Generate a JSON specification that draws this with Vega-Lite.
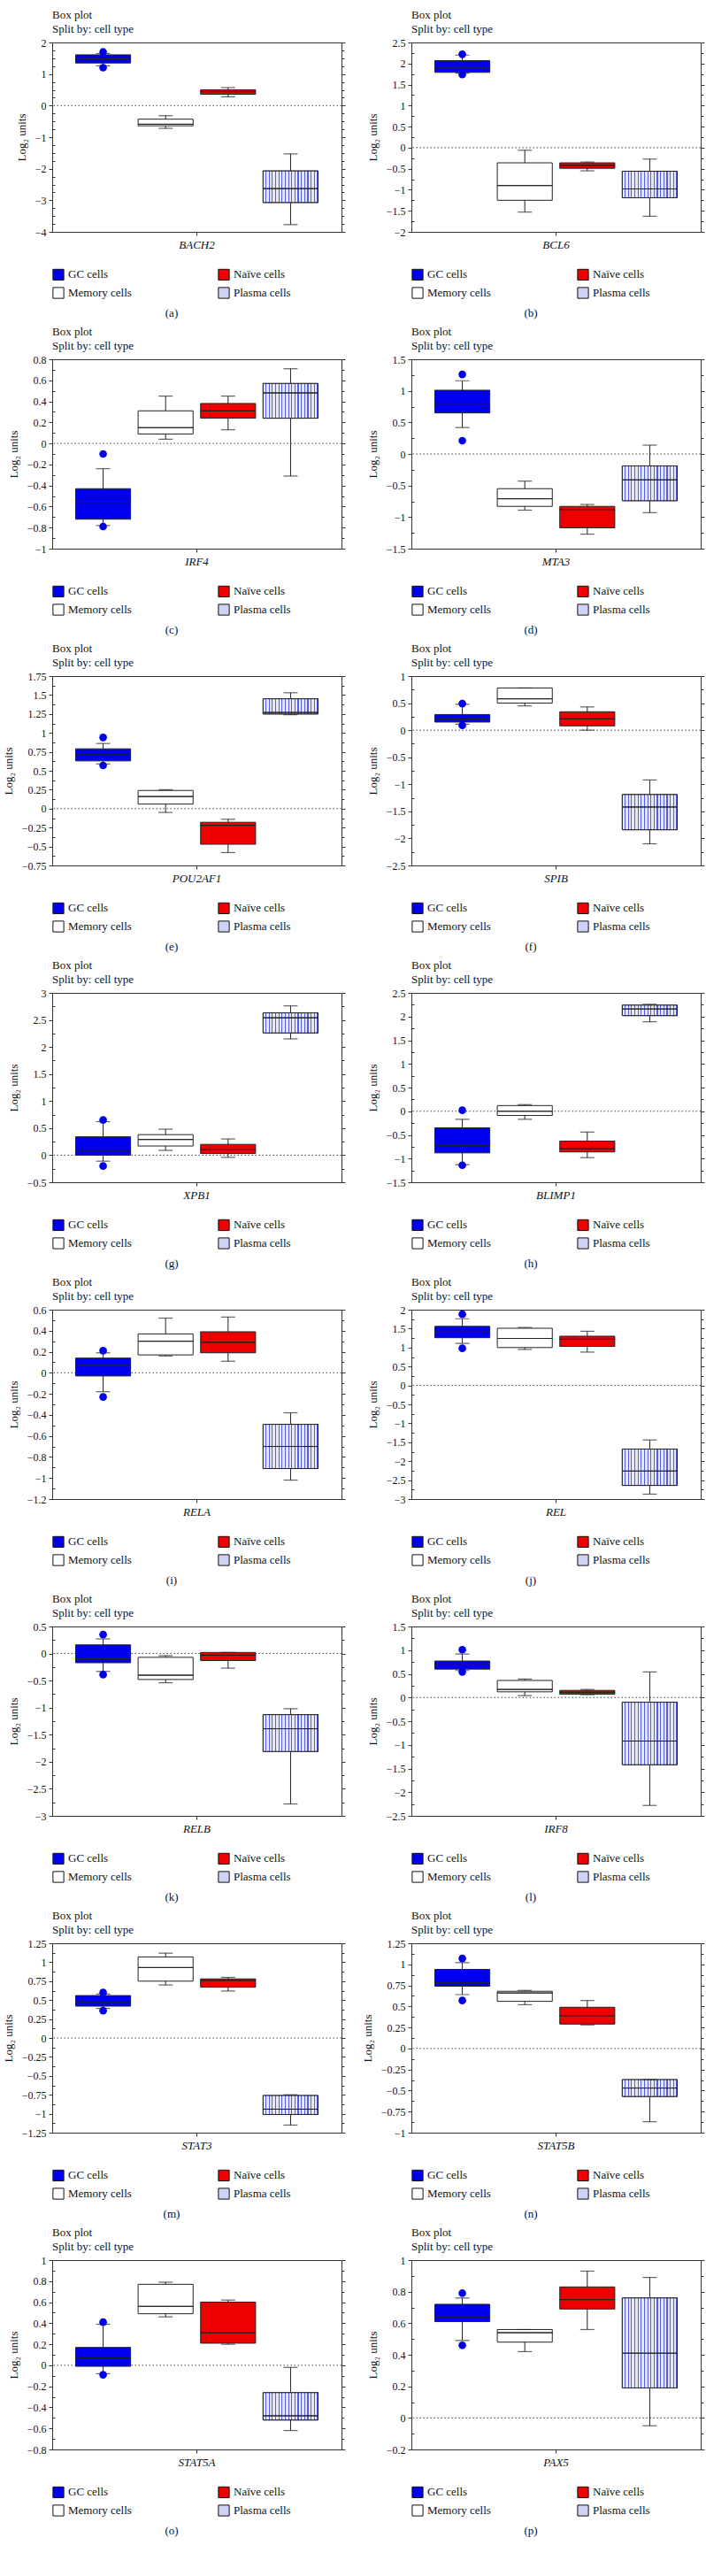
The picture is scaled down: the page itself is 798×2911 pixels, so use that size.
{
"$schema": "https://vega.github.io/schema/vega-lite/v6.json",
"background": "white",
"padding": {"left": 2, "top": 10, "right": 5, "bottom": 5},
"params": [{"name": "hatch", "value": {"gradient": "linear", "x1": 0, "x2": 1, "y1": 0, "y2": 0, "stops": [
{"offset":0,"color":"#e6e7fa"},{"offset":0.0412,"color":"#e6e7fa"},{"offset":0.0412,"color":"#5560e4"},{"offset":0.0588,"color":"#5560e4"},
{"offset":0.0588,"color":"#e6e7fa"},{"offset":0.1,"color":"#e6e7fa"},{"offset":0.1,"color":"#5560e4"},{"offset":0.1176,"color":"#5560e4"},
{"offset":0.1176,"color":"#e6e7fa"},{"offset":0.1588,"color":"#e6e7fa"},{"offset":0.1588,"color":"#5560e4"},{"offset":0.1765,"color":"#5560e4"},
{"offset":0.1765,"color":"#e6e7fa"},{"offset":0.2176,"color":"#e6e7fa"},{"offset":0.2176,"color":"#5560e4"},{"offset":0.2353,"color":"#5560e4"},
{"offset":0.2353,"color":"#e6e7fa"},{"offset":0.2765,"color":"#e6e7fa"},{"offset":0.2765,"color":"#5560e4"},{"offset":0.2941,"color":"#5560e4"},
{"offset":0.2941,"color":"#e6e7fa"},{"offset":0.3353,"color":"#e6e7fa"},{"offset":0.3353,"color":"#5560e4"},{"offset":0.3529,"color":"#5560e4"},
{"offset":0.3529,"color":"#e6e7fa"},{"offset":0.3941,"color":"#e6e7fa"},{"offset":0.3941,"color":"#5560e4"},{"offset":0.4118,"color":"#5560e4"},
{"offset":0.4118,"color":"#e6e7fa"},{"offset":0.4529,"color":"#e6e7fa"},{"offset":0.4529,"color":"#5560e4"},{"offset":0.4706,"color":"#5560e4"},
{"offset":0.4706,"color":"#e6e7fa"},{"offset":0.5118,"color":"#e6e7fa"},{"offset":0.5118,"color":"#5560e4"},{"offset":0.5294,"color":"#5560e4"},
{"offset":0.5294,"color":"#e6e7fa"},{"offset":0.5706,"color":"#e6e7fa"},{"offset":0.5706,"color":"#5560e4"},{"offset":0.5882,"color":"#5560e4"},
{"offset":0.5882,"color":"#e6e7fa"},{"offset":0.6294,"color":"#e6e7fa"},{"offset":0.6294,"color":"#5560e4"},{"offset":0.6471,"color":"#5560e4"},
{"offset":0.6471,"color":"#e6e7fa"},{"offset":0.6882,"color":"#e6e7fa"},{"offset":0.6882,"color":"#5560e4"},{"offset":0.7059,"color":"#5560e4"},
{"offset":0.7059,"color":"#e6e7fa"},{"offset":0.7471,"color":"#e6e7fa"},{"offset":0.7471,"color":"#5560e4"},{"offset":0.7647,"color":"#5560e4"},
{"offset":0.7647,"color":"#e6e7fa"},{"offset":0.8059,"color":"#e6e7fa"},{"offset":0.8059,"color":"#5560e4"},{"offset":0.8235,"color":"#5560e4"},
{"offset":0.8235,"color":"#e6e7fa"},{"offset":0.8647,"color":"#e6e7fa"},{"offset":0.8647,"color":"#5560e4"},{"offset":0.8824,"color":"#5560e4"},
{"offset":0.8824,"color":"#e6e7fa"},{"offset":0.9235,"color":"#e6e7fa"},{"offset":0.9235,"color":"#5560e4"},{"offset":0.9412,"color":"#5560e4"},
{"offset":0.9412,"color":"#e6e7fa"},{"offset":0.9824,"color":"#e6e7fa"},{"offset":0.9824,"color":"#5560e4"},{"offset":1,"color":"#5560e4"}
]}}],
"datasets": {
"boxes": [
{"g":"BACH2","c":"GC cells","lo":1.26,"q1":1.35,"med":1.49,"q3":1.61,"hi":1.65},
{"g":"BACH2","c":"Memory cells","lo":-0.72,"q1":-0.64,"med":-0.59,"q3":-0.43,"hi":-0.32},
{"g":"BACH2","c":"Naïve cells","lo":0.28,"q1":0.36,"med":0.44,"q3":0.5,"hi":0.57},
{"g":"BACH2","c":"Plasma cells","lo":-3.77,"q1":-3.07,"med":-2.63,"q3":-2.07,"hi":-1.53},
{"g":"BCL6","c":"GC cells","lo":1.77,"q1":1.79,"med":1.89,"q3":2.07,"hi":2.2},
{"g":"BCL6","c":"Memory cells","lo":-1.53,"q1":-1.25,"med":-0.9,"q3":-0.36,"hi":-0.06},
{"g":"BCL6","c":"Naïve cells","lo":-0.55,"q1":-0.49,"med":-0.42,"q3":-0.36,"hi":-0.34},
{"g":"BCL6","c":"Plasma cells","lo":-1.63,"q1":-1.19,"med":-0.98,"q3":-0.56,"hi":-0.27},
{"g":"IRF4","c":"GC cells","lo":-0.78,"q1":-0.72,"med":-0.56,"q3":-0.43,"hi":-0.24},
{"g":"IRF4","c":"Memory cells","lo":0.04,"q1":0.09,"med":0.15,"q3":0.31,"hi":0.45},
{"g":"IRF4","c":"Naïve cells","lo":0.13,"q1":0.24,"med":0.31,"q3":0.38,"hi":0.45},
{"g":"IRF4","c":"Plasma cells","lo":-0.31,"q1":0.24,"med":0.48,"q3":0.57,"hi":0.71},
{"g":"MTA3","c":"GC cells","lo":0.42,"q1":0.65,"med":0.78,"q3":1.01,"hi":1.16},
{"g":"MTA3","c":"Memory cells","lo":-0.89,"q1":-0.83,"med":-0.71,"q3":-0.55,"hi":-0.43},
{"g":"MTA3","c":"Naïve cells","lo":-1.27,"q1":-1.17,"med":-0.88,"q3":-0.83,"hi":-0.8},
{"g":"MTA3","c":"Plasma cells","lo":-0.93,"q1":-0.74,"med":-0.41,"q3":-0.19,"hi":0.14},
{"g":"POU2AF1","c":"GC cells","lo":0.59,"q1":0.63,"med":0.72,"q3":0.79,"hi":0.86},
{"g":"POU2AF1","c":"Memory cells","lo":-0.05,"q1":0.06,"med":0.16,"q3":0.24,"hi":0.25},
{"g":"POU2AF1","c":"Naïve cells","lo":-0.58,"q1":-0.47,"med":-0.22,"q3":-0.18,"hi":-0.14},
{"g":"POU2AF1","c":"Plasma cells","lo":1.24,"q1":1.25,"med":1.27,"q3":1.45,"hi":1.53},
{"g":"SPIB","c":"GC cells","lo":0.11,"q1":0.15,"med":0.21,"q3":0.29,"hi":0.48},
{"g":"SPIB","c":"Memory cells","lo":0.45,"q1":0.5,"med":0.58,"q3":0.78,"hi":0.78},
{"g":"SPIB","c":"Naïve cells","lo":0.0,"q1":0.08,"med":0.21,"q3":0.34,"hi":0.43},
{"g":"SPIB","c":"Plasma cells","lo":-2.1,"q1":-1.84,"med":-1.42,"q3":-1.19,"hi":-0.92},
{"g":"XPB1","c":"GC cells","lo":-0.11,"q1":0.0,"med":0.07,"q3":0.34,"hi":0.62},
{"g":"XPB1","c":"Memory cells","lo":0.09,"q1":0.17,"med":0.29,"q3":0.38,"hi":0.48},
{"g":"XPB1","c":"Naïve cells","lo":-0.04,"q1":0.03,"med":0.1,"q3":0.2,"hi":0.3},
{"g":"XPB1","c":"Plasma cells","lo":2.15,"q1":2.26,"med":2.54,"q3":2.63,"hi":2.76},
{"g":"BLIMP1","c":"GC cells","lo":-1.13,"q1":-0.88,"med":-0.73,"q3":-0.35,"hi":-0.17},
{"g":"BLIMP1","c":"Memory cells","lo":-0.17,"q1":-0.09,"med":0.0,"q3":0.12,"hi":0.14},
{"g":"BLIMP1","c":"Naïve cells","lo":-0.98,"q1":-0.86,"med":-0.79,"q3":-0.63,"hi":-0.44},
{"g":"BLIMP1","c":"Plasma cells","lo":1.89,"q1":2.02,"med":2.16,"q3":2.24,"hi":2.26},
{"g":"RELA","c":"GC cells","lo":-0.18,"q1":-0.03,"med":0.07,"q3":0.14,"hi":0.19},
{"g":"RELA","c":"Memory cells","lo":0.16,"q1":0.17,"med":0.3,"q3":0.37,"hi":0.52},
{"g":"RELA","c":"Naïve cells","lo":0.11,"q1":0.19,"med":0.29,"q3":0.39,"hi":0.53},
{"g":"RELA","c":"Plasma cells","lo":-1.02,"q1":-0.91,"med":-0.7,"q3":-0.49,"hi":-0.38},
{"g":"REL","c":"GC cells","lo":1.11,"q1":1.26,"med":1.41,"q3":1.56,"hi":1.76},
{"g":"REL","c":"Memory cells","lo":0.95,"q1":1.0,"med":1.24,"q3":1.51,"hi":1.53},
{"g":"REL","c":"Naïve cells","lo":0.88,"q1":1.03,"med":1.22,"q3":1.3,"hi":1.43},
{"g":"REL","c":"Plasma cells","lo":-2.87,"q1":-2.64,"med":-2.26,"q3":-1.68,"hi":-1.44},
{"g":"RELB","c":"GC cells","lo":-0.33,"q1":-0.17,"med":-0.1,"q3":0.16,"hi":0.27},
{"g":"RELB","c":"Memory cells","lo":-0.54,"q1":-0.48,"med":-0.4,"q3":-0.07,"hi":-0.04},
{"g":"RELB","c":"Naïve cells","lo":-0.27,"q1":-0.13,"med":-0.03,"q3":0.02,"hi":0.02},
{"g":"RELB","c":"Plasma cells","lo":-2.78,"q1":-1.81,"med":-1.39,"q3":-1.13,"hi":-1.02},
{"g":"IRF8","c":"GC cells","lo":0.57,"q1":0.6,"med":0.69,"q3":0.77,"hi":0.92},
{"g":"IRF8","c":"Memory cells","lo":0.04,"q1":0.12,"med":0.17,"q3":0.36,"hi":0.39},
{"g":"IRF8","c":"Naïve cells","lo":0.06,"q1":0.07,"med":0.11,"q3":0.15,"hi":0.17},
{"g":"IRF8","c":"Plasma cells","lo":-2.28,"q1":-1.42,"med":-0.92,"q3":-0.1,"hi":0.54},
{"g":"STAT3","c":"GC cells","lo":0.39,"q1":0.42,"med":0.48,"q3":0.56,"hi":0.58},
{"g":"STAT3","c":"Memory cells","lo":0.7,"q1":0.75,"med":0.93,"q3":1.07,"hi":1.12},
{"g":"STAT3","c":"Naïve cells","lo":0.62,"q1":0.67,"med":0.76,"q3":0.78,"hi":0.8},
{"g":"STAT3","c":"Plasma cells","lo":-1.15,"q1":-1.01,"med":-0.94,"q3":-0.76,"hi":-0.75},
{"g":"STAT5B","c":"GC cells","lo":0.64,"q1":0.74,"med":0.78,"q3":0.94,"hi":1.02},
{"g":"STAT5B","c":"Memory cells","lo":0.52,"q1":0.56,"med":0.66,"q3":0.68,"hi":0.69},
{"g":"STAT5B","c":"Naïve cells","lo":0.28,"q1":0.29,"med":0.39,"q3":0.49,"hi":0.57},
{"g":"STAT5B","c":"Plasma cells","lo":-0.87,"q1":-0.57,"med":-0.47,"q3":-0.37,"hi":-0.37},
{"g":"STAT5A","c":"GC cells","lo":-0.08,"q1":-0.01,"med":0.07,"q3":0.17,"hi":0.39},
{"g":"STAT5A","c":"Memory cells","lo":0.46,"q1":0.49,"med":0.56,"q3":0.77,"hi":0.79},
{"g":"STAT5A","c":"Naïve cells","lo":0.2,"q1":0.21,"med":0.31,"q3":0.6,"hi":0.62},
{"g":"STAT5A","c":"Plasma cells","lo":-0.62,"q1":-0.52,"med":-0.48,"q3":-0.26,"hi":-0.02},
{"g":"PAX5","c":"GC cells","lo":0.49,"q1":0.61,"med":0.64,"q3":0.72,"hi":0.76},
{"g":"PAX5","c":"Memory cells","lo":0.42,"q1":0.48,"med":0.54,"q3":0.56,"hi":0.56},
{"g":"PAX5","c":"Naïve cells","lo":0.56,"q1":0.69,"med":0.75,"q3":0.83,"hi":0.93},
{"g":"PAX5","c":"Plasma cells","lo":-0.05,"q1":0.19,"med":0.41,"q3":0.76,"hi":0.89}
],
"pts": [
{"g":"BACH2","c":"GC cells","v":1.7},{"g":"BACH2","c":"GC cells","v":1.2},
{"g":"BCL6","c":"GC cells","v":2.22},{"g":"BCL6","c":"GC cells","v":1.74},
{"g":"IRF4","c":"GC cells","v":-0.1},{"g":"IRF4","c":"GC cells","v":-0.79},
{"g":"MTA3","c":"GC cells","v":1.26},{"g":"MTA3","c":"GC cells","v":0.21},
{"g":"POU2AF1","c":"GC cells","v":0.94},{"g":"POU2AF1","c":"GC cells","v":0.57},
{"g":"SPIB","c":"GC cells","v":0.49},{"g":"SPIB","c":"GC cells","v":0.09},
{"g":"XPB1","c":"GC cells","v":0.65},{"g":"XPB1","c":"GC cells","v":-0.2},
{"g":"BLIMP1","c":"GC cells","v":0.02},{"g":"BLIMP1","c":"GC cells","v":-1.14},
{"g":"RELA","c":"GC cells","v":0.21},{"g":"RELA","c":"GC cells","v":-0.23},
{"g":"REL","c":"GC cells","v":1.88},{"g":"REL","c":"GC cells","v":0.98},
{"g":"RELB","c":"GC cells","v":0.35},{"g":"RELB","c":"GC cells","v":-0.39},
{"g":"IRF8","c":"GC cells","v":1.01},{"g":"IRF8","c":"GC cells","v":0.54},
{"g":"STAT3","c":"GC cells","v":0.6},{"g":"STAT3","c":"GC cells","v":0.36},
{"g":"STAT5B","c":"GC cells","v":1.07},{"g":"STAT5B","c":"GC cells","v":0.57},
{"g":"STAT5A","c":"GC cells","v":0.41},{"g":"STAT5A","c":"GC cells","v":-0.09},
{"g":"PAX5","c":"GC cells","v":0.79},{"g":"PAX5","c":"GC cells","v":0.46}
]
},
"data": {"name": "boxes"},
"columns": 2,
"spacing": {"row": 6, "column": 17},
"resolve": {"scale": {"fill": "independent", "xOffset": "independent"}, "legend": {"fill": "independent"}},
"concat": [
{"width":327,"height":214,"title":{"text":["Box plot","Split by: cell type"]},"transform":[{"filter":"datum.g=='BACH2'"}],"resolve":{"axis":{"y":"independent"}},"layer":[
{"data":{"values":[{"g":"BACH2"}]},"mark":{"type":"rule","color":"#444","strokeDash":[1.5,2.5]},"encoding":{"y":{"datum":0,"type":"quantitative","axis":null}}},
{"mark":"rule","encoding":{"x":{"field":"g","type":"nominal","scale":{"paddingInner":0,"paddingOuter":0},"axis":{"title":null}},"xOffset":{"field":"c","type":"nominal","scale":{"paddingInner":0.12,"paddingOuter":0.375}},"y":{"field":"lo","type":"quantitative","scale":{"domain":[-4,2],"nice":false,"zero":false},"axis":{"values":[-4,-3,-2,-1,0,1,2],"format":".4~g","title":"Log₂ units"}},"y2":{"field":"hi"}}},
{"mark":"bar","encoding":{"x":{"field":"g","type":"nominal"},"xOffset":{"field":"c","type":"nominal"},"y":{"field":"q1","type":"quantitative","axis":{"orient":"right","title":null,"values":[-4,-3,-2,-1,0,1,2]}},"y2":{"field":"q3"},"fill":{"field":"c","type":"nominal","title":"(a)","scale":{"domain":["GC cells","Naïve cells","Memory cells","Plasma cells"],"range":["#0000ee","#ee0000","#ffffff","#cfd2f7"]}}}},
{"transform":[{"filter":"datum.c=='Plasma cells'"}],"mark":{"type":"bar","fill":{"expr":"hatch"}},"encoding":{"x":{"field":"g","type":"nominal"},"xOffset":{"field":"c","type":"nominal"},"y":{"field":"q1","type":"quantitative","axis":null},"y2":{"field":"q3"}}},
{"mark":"tick","encoding":{"x":{"field":"g","type":"nominal"},"xOffset":{"field":"c","type":"nominal"},"y":{"field":"lo","type":"quantitative","axis":{"orient":"left","title":null,"labels":false,"domain":false,"tickSize":-3,"values":[-3.75,-3.5,-3.25,-2.75,-2.5,-2.25,-1.75,-1.5,-1.25,-0.75,-0.5,-0.25,0.25,0.5,0.75,1.25,1.5,1.75]}}}},
{"mark":"tick","encoding":{"x":{"field":"g","type":"nominal"},"xOffset":{"field":"c","type":"nominal"},"y":{"field":"hi","type":"quantitative","axis":{"orient":"right","title":null,"labels":false,"domain":false,"tickSize":3,"values":[-3.75,-3.5,-3.25,-2.75,-2.5,-2.25,-1.75,-1.5,-1.25,-0.75,-0.5,-0.25,0.25,0.5,0.75,1.25,1.5,1.75]}}}},
{"mark":{"type":"bar","fillOpacity":0},"encoding":{"x":{"field":"g","type":"nominal"},"xOffset":{"field":"c","type":"nominal"},"y":{"field":"med","type":"quantitative","axis":null},"y2":{"field":"med"}}},
{"data":{"name":"pts"},"transform":[{"filter":"datum.g=='BACH2'"}],"mark":"point","encoding":{"x":{"field":"g","type":"nominal"},"xOffset":{"field":"c","type":"nominal"},"y":{"field":"v","type":"quantitative","axis":null}}}
]},
{"width":327,"height":214,"title":{"text":["Box plot","Split by: cell type"]},"transform":[{"filter":"datum.g=='BCL6'"}],"resolve":{"axis":{"y":"independent"}},"layer":[
{"data":{"values":[{"g":"BCL6"}]},"mark":{"type":"rule","color":"#444","strokeDash":[1.5,2.5]},"encoding":{"y":{"datum":0,"type":"quantitative","axis":null}}},
{"mark":"rule","encoding":{"x":{"field":"g","type":"nominal","scale":{"paddingInner":0,"paddingOuter":0},"axis":{"title":null}},"xOffset":{"field":"c","type":"nominal","scale":{"paddingInner":0.12,"paddingOuter":0.375}},"y":{"field":"lo","type":"quantitative","scale":{"domain":[-2,2.5],"nice":false,"zero":false},"axis":{"values":[-2,-1.5,-1,-0.5,0,0.5,1,1.5,2,2.5],"format":".4~g","title":"Log₂ units"}},"y2":{"field":"hi"}}},
{"mark":"bar","encoding":{"x":{"field":"g","type":"nominal"},"xOffset":{"field":"c","type":"nominal"},"y":{"field":"q1","type":"quantitative","axis":{"orient":"right","title":null,"values":[-2,-1.5,-1,-0.5,0,0.5,1,1.5,2,2.5]}},"y2":{"field":"q3"},"fill":{"field":"c","type":"nominal","title":"(b)","scale":{"domain":["GC cells","Naïve cells","Memory cells","Plasma cells"],"range":["#0000ee","#ee0000","#ffffff","#cfd2f7"]}}}},
{"transform":[{"filter":"datum.c=='Plasma cells'"}],"mark":{"type":"bar","fill":{"expr":"hatch"}},"encoding":{"x":{"field":"g","type":"nominal"},"xOffset":{"field":"c","type":"nominal"},"y":{"field":"q1","type":"quantitative","axis":null},"y2":{"field":"q3"}}},
{"mark":"tick","encoding":{"x":{"field":"g","type":"nominal"},"xOffset":{"field":"c","type":"nominal"},"y":{"field":"lo","type":"quantitative","axis":{"orient":"left","title":null,"labels":false,"domain":false,"tickSize":-3,"values":[-1.75,-1.25,-0.75,-0.25,0.25,0.75,1.25,1.75,2.25]}}}},
{"mark":"tick","encoding":{"x":{"field":"g","type":"nominal"},"xOffset":{"field":"c","type":"nominal"},"y":{"field":"hi","type":"quantitative","axis":{"orient":"right","title":null,"labels":false,"domain":false,"tickSize":3,"values":[-1.75,-1.25,-0.75,-0.25,0.25,0.75,1.25,1.75,2.25]}}}},
{"mark":{"type":"bar","fillOpacity":0},"encoding":{"x":{"field":"g","type":"nominal"},"xOffset":{"field":"c","type":"nominal"},"y":{"field":"med","type":"quantitative","axis":null},"y2":{"field":"med"}}},
{"data":{"name":"pts"},"transform":[{"filter":"datum.g=='BCL6'"}],"mark":"point","encoding":{"x":{"field":"g","type":"nominal"},"xOffset":{"field":"c","type":"nominal"},"y":{"field":"v","type":"quantitative","axis":null}}}
]},
{"width":327,"height":214,"title":{"text":["Box plot","Split by: cell type"]},"transform":[{"filter":"datum.g=='IRF4'"}],"resolve":{"axis":{"y":"independent"}},"layer":[
{"data":{"values":[{"g":"IRF4"}]},"mark":{"type":"rule","color":"#444","strokeDash":[1.5,2.5]},"encoding":{"y":{"datum":0,"type":"quantitative","axis":null}}},
{"mark":"rule","encoding":{"x":{"field":"g","type":"nominal","scale":{"paddingInner":0,"paddingOuter":0},"axis":{"title":null}},"xOffset":{"field":"c","type":"nominal","scale":{"paddingInner":0.12,"paddingOuter":0.375}},"y":{"field":"lo","type":"quantitative","scale":{"domain":[-1,0.8],"nice":false,"zero":false},"axis":{"values":[-1,-0.8,-0.6,-0.4,-0.2,0,0.2,0.4,0.6,0.8],"format":".4~g","title":"Log₂ units"}},"y2":{"field":"hi"}}},
{"mark":"bar","encoding":{"x":{"field":"g","type":"nominal"},"xOffset":{"field":"c","type":"nominal"},"y":{"field":"q1","type":"quantitative","axis":{"orient":"right","title":null,"values":[-1,-0.8,-0.6,-0.4,-0.2,0,0.2,0.4,0.6,0.8]}},"y2":{"field":"q3"},"fill":{"field":"c","type":"nominal","title":"(c)","scale":{"domain":["GC cells","Naïve cells","Memory cells","Plasma cells"],"range":["#0000ee","#ee0000","#ffffff","#cfd2f7"]}}}},
{"transform":[{"filter":"datum.c=='Plasma cells'"}],"mark":{"type":"bar","fill":{"expr":"hatch"}},"encoding":{"x":{"field":"g","type":"nominal"},"xOffset":{"field":"c","type":"nominal"},"y":{"field":"q1","type":"quantitative","axis":null},"y2":{"field":"q3"}}},
{"mark":"tick","encoding":{"x":{"field":"g","type":"nominal"},"xOffset":{"field":"c","type":"nominal"},"y":{"field":"lo","type":"quantitative","axis":{"orient":"left","title":null,"labels":false,"domain":false,"tickSize":-3,"values":[-0.9,-0.7,-0.5,-0.3,-0.1,0.1,0.3,0.5,0.7]}}}},
{"mark":"tick","encoding":{"x":{"field":"g","type":"nominal"},"xOffset":{"field":"c","type":"nominal"},"y":{"field":"hi","type":"quantitative","axis":{"orient":"right","title":null,"labels":false,"domain":false,"tickSize":3,"values":[-0.9,-0.7,-0.5,-0.3,-0.1,0.1,0.3,0.5,0.7]}}}},
{"mark":{"type":"bar","fillOpacity":0},"encoding":{"x":{"field":"g","type":"nominal"},"xOffset":{"field":"c","type":"nominal"},"y":{"field":"med","type":"quantitative","axis":null},"y2":{"field":"med"}}},
{"data":{"name":"pts"},"transform":[{"filter":"datum.g=='IRF4'"}],"mark":"point","encoding":{"x":{"field":"g","type":"nominal"},"xOffset":{"field":"c","type":"nominal"},"y":{"field":"v","type":"quantitative","axis":null}}}
]},
{"width":327,"height":214,"title":{"text":["Box plot","Split by: cell type"]},"transform":[{"filter":"datum.g=='MTA3'"}],"resolve":{"axis":{"y":"independent"}},"layer":[
{"data":{"values":[{"g":"MTA3"}]},"mark":{"type":"rule","color":"#444","strokeDash":[1.5,2.5]},"encoding":{"y":{"datum":0,"type":"quantitative","axis":null}}},
{"mark":"rule","encoding":{"x":{"field":"g","type":"nominal","scale":{"paddingInner":0,"paddingOuter":0},"axis":{"title":null}},"xOffset":{"field":"c","type":"nominal","scale":{"paddingInner":0.12,"paddingOuter":0.375}},"y":{"field":"lo","type":"quantitative","scale":{"domain":[-1.5,1.5],"nice":false,"zero":false},"axis":{"values":[-1.5,-1,-0.5,0,0.5,1,1.5],"format":".4~g","title":"Log₂ units"}},"y2":{"field":"hi"}}},
{"mark":"bar","encoding":{"x":{"field":"g","type":"nominal"},"xOffset":{"field":"c","type":"nominal"},"y":{"field":"q1","type":"quantitative","axis":{"orient":"right","title":null,"values":[-1.5,-1,-0.5,0,0.5,1,1.5]}},"y2":{"field":"q3"},"fill":{"field":"c","type":"nominal","title":"(d)","scale":{"domain":["GC cells","Naïve cells","Memory cells","Plasma cells"],"range":["#0000ee","#ee0000","#ffffff","#cfd2f7"]}}}},
{"transform":[{"filter":"datum.c=='Plasma cells'"}],"mark":{"type":"bar","fill":{"expr":"hatch"}},"encoding":{"x":{"field":"g","type":"nominal"},"xOffset":{"field":"c","type":"nominal"},"y":{"field":"q1","type":"quantitative","axis":null},"y2":{"field":"q3"}}},
{"mark":"tick","encoding":{"x":{"field":"g","type":"nominal"},"xOffset":{"field":"c","type":"nominal"},"y":{"field":"lo","type":"quantitative","axis":{"orient":"left","title":null,"labels":false,"domain":false,"tickSize":-3,"values":[-1.25,-0.75,-0.25,0.25,0.75,1.25]}}}},
{"mark":"tick","encoding":{"x":{"field":"g","type":"nominal"},"xOffset":{"field":"c","type":"nominal"},"y":{"field":"hi","type":"quantitative","axis":{"orient":"right","title":null,"labels":false,"domain":false,"tickSize":3,"values":[-1.25,-0.75,-0.25,0.25,0.75,1.25]}}}},
{"mark":{"type":"bar","fillOpacity":0},"encoding":{"x":{"field":"g","type":"nominal"},"xOffset":{"field":"c","type":"nominal"},"y":{"field":"med","type":"quantitative","axis":null},"y2":{"field":"med"}}},
{"data":{"name":"pts"},"transform":[{"filter":"datum.g=='MTA3'"}],"mark":"point","encoding":{"x":{"field":"g","type":"nominal"},"xOffset":{"field":"c","type":"nominal"},"y":{"field":"v","type":"quantitative","axis":null}}}
]},
{"width":327,"height":214,"title":{"text":["Box plot","Split by: cell type"]},"transform":[{"filter":"datum.g=='POU2AF1'"}],"resolve":{"axis":{"y":"independent"}},"layer":[
{"data":{"values":[{"g":"POU2AF1"}]},"mark":{"type":"rule","color":"#444","strokeDash":[1.5,2.5]},"encoding":{"y":{"datum":0,"type":"quantitative","axis":null}}},
{"mark":"rule","encoding":{"x":{"field":"g","type":"nominal","scale":{"paddingInner":0,"paddingOuter":0},"axis":{"title":null}},"xOffset":{"field":"c","type":"nominal","scale":{"paddingInner":0.12,"paddingOuter":0.375}},"y":{"field":"lo","type":"quantitative","scale":{"domain":[-0.75,1.75],"nice":false,"zero":false},"axis":{"values":[-0.75,-0.5,-0.25,0,0.25,0.5,0.75,1,1.25,1.5,1.75],"format":".4~g","title":"Log₂ units"}},"y2":{"field":"hi"}}},
{"mark":"bar","encoding":{"x":{"field":"g","type":"nominal"},"xOffset":{"field":"c","type":"nominal"},"y":{"field":"q1","type":"quantitative","axis":{"orient":"right","title":null,"values":[-0.75,-0.5,-0.25,0,0.25,0.5,0.75,1,1.25,1.5,1.75]}},"y2":{"field":"q3"},"fill":{"field":"c","type":"nominal","title":"(e)","scale":{"domain":["GC cells","Naïve cells","Memory cells","Plasma cells"],"range":["#0000ee","#ee0000","#ffffff","#cfd2f7"]}}}},
{"transform":[{"filter":"datum.c=='Plasma cells'"}],"mark":{"type":"bar","fill":{"expr":"hatch"}},"encoding":{"x":{"field":"g","type":"nominal"},"xOffset":{"field":"c","type":"nominal"},"y":{"field":"q1","type":"quantitative","axis":null},"y2":{"field":"q3"}}},
{"mark":"tick","encoding":{"x":{"field":"g","type":"nominal"},"xOffset":{"field":"c","type":"nominal"},"y":{"field":"lo","type":"quantitative","axis":{"orient":"left","title":null,"labels":false,"domain":false,"tickSize":-3,"values":[-0.625,-0.375,-0.125,0.125,0.375,0.625,0.875,1.125,1.375,1.625]}}}},
{"mark":"tick","encoding":{"x":{"field":"g","type":"nominal"},"xOffset":{"field":"c","type":"nominal"},"y":{"field":"hi","type":"quantitative","axis":{"orient":"right","title":null,"labels":false,"domain":false,"tickSize":3,"values":[-0.625,-0.375,-0.125,0.125,0.375,0.625,0.875,1.125,1.375,1.625]}}}},
{"mark":{"type":"bar","fillOpacity":0},"encoding":{"x":{"field":"g","type":"nominal"},"xOffset":{"field":"c","type":"nominal"},"y":{"field":"med","type":"quantitative","axis":null},"y2":{"field":"med"}}},
{"data":{"name":"pts"},"transform":[{"filter":"datum.g=='POU2AF1'"}],"mark":"point","encoding":{"x":{"field":"g","type":"nominal"},"xOffset":{"field":"c","type":"nominal"},"y":{"field":"v","type":"quantitative","axis":null}}}
]},
{"width":327,"height":214,"title":{"text":["Box plot","Split by: cell type"]},"transform":[{"filter":"datum.g=='SPIB'"}],"resolve":{"axis":{"y":"independent"}},"layer":[
{"data":{"values":[{"g":"SPIB"}]},"mark":{"type":"rule","color":"#444","strokeDash":[1.5,2.5]},"encoding":{"y":{"datum":0,"type":"quantitative","axis":null}}},
{"mark":"rule","encoding":{"x":{"field":"g","type":"nominal","scale":{"paddingInner":0,"paddingOuter":0},"axis":{"title":null}},"xOffset":{"field":"c","type":"nominal","scale":{"paddingInner":0.12,"paddingOuter":0.375}},"y":{"field":"lo","type":"quantitative","scale":{"domain":[-2.5,1],"nice":false,"zero":false},"axis":{"values":[-2.5,-2,-1.5,-1,-0.5,0,0.5,1],"format":".4~g","title":"Log₂ units"}},"y2":{"field":"hi"}}},
{"mark":"bar","encoding":{"x":{"field":"g","type":"nominal"},"xOffset":{"field":"c","type":"nominal"},"y":{"field":"q1","type":"quantitative","axis":{"orient":"right","title":null,"values":[-2.5,-2,-1.5,-1,-0.5,0,0.5,1]}},"y2":{"field":"q3"},"fill":{"field":"c","type":"nominal","title":"(f)","scale":{"domain":["GC cells","Naïve cells","Memory cells","Plasma cells"],"range":["#0000ee","#ee0000","#ffffff","#cfd2f7"]}}}},
{"transform":[{"filter":"datum.c=='Plasma cells'"}],"mark":{"type":"bar","fill":{"expr":"hatch"}},"encoding":{"x":{"field":"g","type":"nominal"},"xOffset":{"field":"c","type":"nominal"},"y":{"field":"q1","type":"quantitative","axis":null},"y2":{"field":"q3"}}},
{"mark":"tick","encoding":{"x":{"field":"g","type":"nominal"},"xOffset":{"field":"c","type":"nominal"},"y":{"field":"lo","type":"quantitative","axis":{"orient":"left","title":null,"labels":false,"domain":false,"tickSize":-3,"values":[-2.25,-1.75,-1.25,-0.75,-0.25,0.25,0.75]}}}},
{"mark":"tick","encoding":{"x":{"field":"g","type":"nominal"},"xOffset":{"field":"c","type":"nominal"},"y":{"field":"hi","type":"quantitative","axis":{"orient":"right","title":null,"labels":false,"domain":false,"tickSize":3,"values":[-2.25,-1.75,-1.25,-0.75,-0.25,0.25,0.75]}}}},
{"mark":{"type":"bar","fillOpacity":0},"encoding":{"x":{"field":"g","type":"nominal"},"xOffset":{"field":"c","type":"nominal"},"y":{"field":"med","type":"quantitative","axis":null},"y2":{"field":"med"}}},
{"data":{"name":"pts"},"transform":[{"filter":"datum.g=='SPIB'"}],"mark":"point","encoding":{"x":{"field":"g","type":"nominal"},"xOffset":{"field":"c","type":"nominal"},"y":{"field":"v","type":"quantitative","axis":null}}}
]},
{"width":327,"height":214,"title":{"text":["Box plot","Split by: cell type"]},"transform":[{"filter":"datum.g=='XPB1'"}],"resolve":{"axis":{"y":"independent"}},"layer":[
{"data":{"values":[{"g":"XPB1"}]},"mark":{"type":"rule","color":"#444","strokeDash":[1.5,2.5]},"encoding":{"y":{"datum":0,"type":"quantitative","axis":null}}},
{"mark":"rule","encoding":{"x":{"field":"g","type":"nominal","scale":{"paddingInner":0,"paddingOuter":0},"axis":{"title":null}},"xOffset":{"field":"c","type":"nominal","scale":{"paddingInner":0.12,"paddingOuter":0.375}},"y":{"field":"lo","type":"quantitative","scale":{"domain":[-0.5,3],"nice":false,"zero":false},"axis":{"values":[-0.5,0,0.5,1,1.5,2,2.5,3],"format":".4~g","title":"Log₂ units"}},"y2":{"field":"hi"}}},
{"mark":"bar","encoding":{"x":{"field":"g","type":"nominal"},"xOffset":{"field":"c","type":"nominal"},"y":{"field":"q1","type":"quantitative","axis":{"orient":"right","title":null,"values":[-0.5,0,0.5,1,1.5,2,2.5,3]}},"y2":{"field":"q3"},"fill":{"field":"c","type":"nominal","title":"(g)","scale":{"domain":["GC cells","Naïve cells","Memory cells","Plasma cells"],"range":["#0000ee","#ee0000","#ffffff","#cfd2f7"]}}}},
{"transform":[{"filter":"datum.c=='Plasma cells'"}],"mark":{"type":"bar","fill":{"expr":"hatch"}},"encoding":{"x":{"field":"g","type":"nominal"},"xOffset":{"field":"c","type":"nominal"},"y":{"field":"q1","type":"quantitative","axis":null},"y2":{"field":"q3"}}},
{"mark":"tick","encoding":{"x":{"field":"g","type":"nominal"},"xOffset":{"field":"c","type":"nominal"},"y":{"field":"lo","type":"quantitative","axis":{"orient":"left","title":null,"labels":false,"domain":false,"tickSize":-3,"values":[-0.25,0.25,0.75,1.25,1.75,2.25,2.75]}}}},
{"mark":"tick","encoding":{"x":{"field":"g","type":"nominal"},"xOffset":{"field":"c","type":"nominal"},"y":{"field":"hi","type":"quantitative","axis":{"orient":"right","title":null,"labels":false,"domain":false,"tickSize":3,"values":[-0.25,0.25,0.75,1.25,1.75,2.25,2.75]}}}},
{"mark":{"type":"bar","fillOpacity":0},"encoding":{"x":{"field":"g","type":"nominal"},"xOffset":{"field":"c","type":"nominal"},"y":{"field":"med","type":"quantitative","axis":null},"y2":{"field":"med"}}},
{"data":{"name":"pts"},"transform":[{"filter":"datum.g=='XPB1'"}],"mark":"point","encoding":{"x":{"field":"g","type":"nominal"},"xOffset":{"field":"c","type":"nominal"},"y":{"field":"v","type":"quantitative","axis":null}}}
]},
{"width":327,"height":214,"title":{"text":["Box plot","Split by: cell type"]},"transform":[{"filter":"datum.g=='BLIMP1'"}],"resolve":{"axis":{"y":"independent"}},"layer":[
{"data":{"values":[{"g":"BLIMP1"}]},"mark":{"type":"rule","color":"#444","strokeDash":[1.5,2.5]},"encoding":{"y":{"datum":0,"type":"quantitative","axis":null}}},
{"mark":"rule","encoding":{"x":{"field":"g","type":"nominal","scale":{"paddingInner":0,"paddingOuter":0},"axis":{"title":null}},"xOffset":{"field":"c","type":"nominal","scale":{"paddingInner":0.12,"paddingOuter":0.375}},"y":{"field":"lo","type":"quantitative","scale":{"domain":[-1.5,2.5],"nice":false,"zero":false},"axis":{"values":[-1.5,-1,-0.5,0,0.5,1,1.5,2,2.5],"format":".4~g","title":"Log₂ units"}},"y2":{"field":"hi"}}},
{"mark":"bar","encoding":{"x":{"field":"g","type":"nominal"},"xOffset":{"field":"c","type":"nominal"},"y":{"field":"q1","type":"quantitative","axis":{"orient":"right","title":null,"values":[-1.5,-1,-0.5,0,0.5,1,1.5,2,2.5]}},"y2":{"field":"q3"},"fill":{"field":"c","type":"nominal","title":"(h)","scale":{"domain":["GC cells","Naïve cells","Memory cells","Plasma cells"],"range":["#0000ee","#ee0000","#ffffff","#cfd2f7"]}}}},
{"transform":[{"filter":"datum.c=='Plasma cells'"}],"mark":{"type":"bar","fill":{"expr":"hatch"}},"encoding":{"x":{"field":"g","type":"nominal"},"xOffset":{"field":"c","type":"nominal"},"y":{"field":"q1","type":"quantitative","axis":null},"y2":{"field":"q3"}}},
{"mark":"tick","encoding":{"x":{"field":"g","type":"nominal"},"xOffset":{"field":"c","type":"nominal"},"y":{"field":"lo","type":"quantitative","axis":{"orient":"left","title":null,"labels":false,"domain":false,"tickSize":-3,"values":[-1.25,-0.75,-0.25,0.25,0.75,1.25,1.75,2.25]}}}},
{"mark":"tick","encoding":{"x":{"field":"g","type":"nominal"},"xOffset":{"field":"c","type":"nominal"},"y":{"field":"hi","type":"quantitative","axis":{"orient":"right","title":null,"labels":false,"domain":false,"tickSize":3,"values":[-1.25,-0.75,-0.25,0.25,0.75,1.25,1.75,2.25]}}}},
{"mark":{"type":"bar","fillOpacity":0},"encoding":{"x":{"field":"g","type":"nominal"},"xOffset":{"field":"c","type":"nominal"},"y":{"field":"med","type":"quantitative","axis":null},"y2":{"field":"med"}}},
{"data":{"name":"pts"},"transform":[{"filter":"datum.g=='BLIMP1'"}],"mark":"point","encoding":{"x":{"field":"g","type":"nominal"},"xOffset":{"field":"c","type":"nominal"},"y":{"field":"v","type":"quantitative","axis":null}}}
]},
{"width":327,"height":214,"title":{"text":["Box plot","Split by: cell type"]},"transform":[{"filter":"datum.g=='RELA'"}],"resolve":{"axis":{"y":"independent"}},"layer":[
{"data":{"values":[{"g":"RELA"}]},"mark":{"type":"rule","color":"#444","strokeDash":[1.5,2.5]},"encoding":{"y":{"datum":0,"type":"quantitative","axis":null}}},
{"mark":"rule","encoding":{"x":{"field":"g","type":"nominal","scale":{"paddingInner":0,"paddingOuter":0},"axis":{"title":null}},"xOffset":{"field":"c","type":"nominal","scale":{"paddingInner":0.12,"paddingOuter":0.375}},"y":{"field":"lo","type":"quantitative","scale":{"domain":[-1.2,0.6],"nice":false,"zero":false},"axis":{"values":[-1.2,-1,-0.8,-0.6,-0.4,-0.2,0,0.2,0.4,0.6],"format":".4~g","title":"Log₂ units"}},"y2":{"field":"hi"}}},
{"mark":"bar","encoding":{"x":{"field":"g","type":"nominal"},"xOffset":{"field":"c","type":"nominal"},"y":{"field":"q1","type":"quantitative","axis":{"orient":"right","title":null,"values":[-1.2,-1,-0.8,-0.6,-0.4,-0.2,0,0.2,0.4,0.6]}},"y2":{"field":"q3"},"fill":{"field":"c","type":"nominal","title":"(i)","scale":{"domain":["GC cells","Naïve cells","Memory cells","Plasma cells"],"range":["#0000ee","#ee0000","#ffffff","#cfd2f7"]}}}},
{"transform":[{"filter":"datum.c=='Plasma cells'"}],"mark":{"type":"bar","fill":{"expr":"hatch"}},"encoding":{"x":{"field":"g","type":"nominal"},"xOffset":{"field":"c","type":"nominal"},"y":{"field":"q1","type":"quantitative","axis":null},"y2":{"field":"q3"}}},
{"mark":"tick","encoding":{"x":{"field":"g","type":"nominal"},"xOffset":{"field":"c","type":"nominal"},"y":{"field":"lo","type":"quantitative","axis":{"orient":"left","title":null,"labels":false,"domain":false,"tickSize":-3,"values":[-1.1,-0.9,-0.7,-0.5,-0.3,-0.1,0.1,0.3,0.5]}}}},
{"mark":"tick","encoding":{"x":{"field":"g","type":"nominal"},"xOffset":{"field":"c","type":"nominal"},"y":{"field":"hi","type":"quantitative","axis":{"orient":"right","title":null,"labels":false,"domain":false,"tickSize":3,"values":[-1.1,-0.9,-0.7,-0.5,-0.3,-0.1,0.1,0.3,0.5]}}}},
{"mark":{"type":"bar","fillOpacity":0},"encoding":{"x":{"field":"g","type":"nominal"},"xOffset":{"field":"c","type":"nominal"},"y":{"field":"med","type":"quantitative","axis":null},"y2":{"field":"med"}}},
{"data":{"name":"pts"},"transform":[{"filter":"datum.g=='RELA'"}],"mark":"point","encoding":{"x":{"field":"g","type":"nominal"},"xOffset":{"field":"c","type":"nominal"},"y":{"field":"v","type":"quantitative","axis":null}}}
]},
{"width":327,"height":214,"title":{"text":["Box plot","Split by: cell type"]},"transform":[{"filter":"datum.g=='REL'"}],"resolve":{"axis":{"y":"independent"}},"layer":[
{"data":{"values":[{"g":"REL"}]},"mark":{"type":"rule","color":"#444","strokeDash":[1.5,2.5]},"encoding":{"y":{"datum":0,"type":"quantitative","axis":null}}},
{"mark":"rule","encoding":{"x":{"field":"g","type":"nominal","scale":{"paddingInner":0,"paddingOuter":0},"axis":{"title":null}},"xOffset":{"field":"c","type":"nominal","scale":{"paddingInner":0.12,"paddingOuter":0.375}},"y":{"field":"lo","type":"quantitative","scale":{"domain":[-3,2],"nice":false,"zero":false},"axis":{"values":[-3,-2.5,-2,-1.5,-1,-0.5,0,0.5,1,1.5,2],"format":".4~g","title":"Log₂ units"}},"y2":{"field":"hi"}}},
{"mark":"bar","encoding":{"x":{"field":"g","type":"nominal"},"xOffset":{"field":"c","type":"nominal"},"y":{"field":"q1","type":"quantitative","axis":{"orient":"right","title":null,"values":[-3,-2.5,-2,-1.5,-1,-0.5,0,0.5,1,1.5,2]}},"y2":{"field":"q3"},"fill":{"field":"c","type":"nominal","title":"(j)","scale":{"domain":["GC cells","Naïve cells","Memory cells","Plasma cells"],"range":["#0000ee","#ee0000","#ffffff","#cfd2f7"]}}}},
{"transform":[{"filter":"datum.c=='Plasma cells'"}],"mark":{"type":"bar","fill":{"expr":"hatch"}},"encoding":{"x":{"field":"g","type":"nominal"},"xOffset":{"field":"c","type":"nominal"},"y":{"field":"q1","type":"quantitative","axis":null},"y2":{"field":"q3"}}},
{"mark":"tick","encoding":{"x":{"field":"g","type":"nominal"},"xOffset":{"field":"c","type":"nominal"},"y":{"field":"lo","type":"quantitative","axis":{"orient":"left","title":null,"labels":false,"domain":false,"tickSize":-3,"values":[-2.75,-2.25,-1.75,-1.25,-0.75,-0.25,0.25,0.75,1.25,1.75]}}}},
{"mark":"tick","encoding":{"x":{"field":"g","type":"nominal"},"xOffset":{"field":"c","type":"nominal"},"y":{"field":"hi","type":"quantitative","axis":{"orient":"right","title":null,"labels":false,"domain":false,"tickSize":3,"values":[-2.75,-2.25,-1.75,-1.25,-0.75,-0.25,0.25,0.75,1.25,1.75]}}}},
{"mark":{"type":"bar","fillOpacity":0},"encoding":{"x":{"field":"g","type":"nominal"},"xOffset":{"field":"c","type":"nominal"},"y":{"field":"med","type":"quantitative","axis":null},"y2":{"field":"med"}}},
{"data":{"name":"pts"},"transform":[{"filter":"datum.g=='REL'"}],"mark":"point","encoding":{"x":{"field":"g","type":"nominal"},"xOffset":{"field":"c","type":"nominal"},"y":{"field":"v","type":"quantitative","axis":null}}}
]},
{"width":327,"height":214,"title":{"text":["Box plot","Split by: cell type"]},"transform":[{"filter":"datum.g=='RELB'"}],"resolve":{"axis":{"y":"independent"}},"layer":[
{"data":{"values":[{"g":"RELB"}]},"mark":{"type":"rule","color":"#444","strokeDash":[1.5,2.5]},"encoding":{"y":{"datum":0,"type":"quantitative","axis":null}}},
{"mark":"rule","encoding":{"x":{"field":"g","type":"nominal","scale":{"paddingInner":0,"paddingOuter":0},"axis":{"title":null}},"xOffset":{"field":"c","type":"nominal","scale":{"paddingInner":0.12,"paddingOuter":0.375}},"y":{"field":"lo","type":"quantitative","scale":{"domain":[-3,0.5],"nice":false,"zero":false},"axis":{"values":[-3,-2.5,-2,-1.5,-1,-0.5,0,0.5],"format":".4~g","title":"Log₂ units"}},"y2":{"field":"hi"}}},
{"mark":"bar","encoding":{"x":{"field":"g","type":"nominal"},"xOffset":{"field":"c","type":"nominal"},"y":{"field":"q1","type":"quantitative","axis":{"orient":"right","title":null,"values":[-3,-2.5,-2,-1.5,-1,-0.5,0,0.5]}},"y2":{"field":"q3"},"fill":{"field":"c","type":"nominal","title":"(k)","scale":{"domain":["GC cells","Naïve cells","Memory cells","Plasma cells"],"range":["#0000ee","#ee0000","#ffffff","#cfd2f7"]}}}},
{"transform":[{"filter":"datum.c=='Plasma cells'"}],"mark":{"type":"bar","fill":{"expr":"hatch"}},"encoding":{"x":{"field":"g","type":"nominal"},"xOffset":{"field":"c","type":"nominal"},"y":{"field":"q1","type":"quantitative","axis":null},"y2":{"field":"q3"}}},
{"mark":"tick","encoding":{"x":{"field":"g","type":"nominal"},"xOffset":{"field":"c","type":"nominal"},"y":{"field":"lo","type":"quantitative","axis":{"orient":"left","title":null,"labels":false,"domain":false,"tickSize":-3,"values":[-2.75,-2.25,-1.75,-1.25,-0.75,-0.25,0.25]}}}},
{"mark":"tick","encoding":{"x":{"field":"g","type":"nominal"},"xOffset":{"field":"c","type":"nominal"},"y":{"field":"hi","type":"quantitative","axis":{"orient":"right","title":null,"labels":false,"domain":false,"tickSize":3,"values":[-2.75,-2.25,-1.75,-1.25,-0.75,-0.25,0.25]}}}},
{"mark":{"type":"bar","fillOpacity":0},"encoding":{"x":{"field":"g","type":"nominal"},"xOffset":{"field":"c","type":"nominal"},"y":{"field":"med","type":"quantitative","axis":null},"y2":{"field":"med"}}},
{"data":{"name":"pts"},"transform":[{"filter":"datum.g=='RELB'"}],"mark":"point","encoding":{"x":{"field":"g","type":"nominal"},"xOffset":{"field":"c","type":"nominal"},"y":{"field":"v","type":"quantitative","axis":null}}}
]},
{"width":327,"height":214,"title":{"text":["Box plot","Split by: cell type"]},"transform":[{"filter":"datum.g=='IRF8'"}],"resolve":{"axis":{"y":"independent"}},"layer":[
{"data":{"values":[{"g":"IRF8"}]},"mark":{"type":"rule","color":"#444","strokeDash":[1.5,2.5]},"encoding":{"y":{"datum":0,"type":"quantitative","axis":null}}},
{"mark":"rule","encoding":{"x":{"field":"g","type":"nominal","scale":{"paddingInner":0,"paddingOuter":0},"axis":{"title":null}},"xOffset":{"field":"c","type":"nominal","scale":{"paddingInner":0.12,"paddingOuter":0.375}},"y":{"field":"lo","type":"quantitative","scale":{"domain":[-2.5,1.5],"nice":false,"zero":false},"axis":{"values":[-2.5,-2,-1.5,-1,-0.5,0,0.5,1,1.5],"format":".4~g","title":"Log₂ units"}},"y2":{"field":"hi"}}},
{"mark":"bar","encoding":{"x":{"field":"g","type":"nominal"},"xOffset":{"field":"c","type":"nominal"},"y":{"field":"q1","type":"quantitative","axis":{"orient":"right","title":null,"values":[-2.5,-2,-1.5,-1,-0.5,0,0.5,1,1.5]}},"y2":{"field":"q3"},"fill":{"field":"c","type":"nominal","title":"(l)","scale":{"domain":["GC cells","Naïve cells","Memory cells","Plasma cells"],"range":["#0000ee","#ee0000","#ffffff","#cfd2f7"]}}}},
{"transform":[{"filter":"datum.c=='Plasma cells'"}],"mark":{"type":"bar","fill":{"expr":"hatch"}},"encoding":{"x":{"field":"g","type":"nominal"},"xOffset":{"field":"c","type":"nominal"},"y":{"field":"q1","type":"quantitative","axis":null},"y2":{"field":"q3"}}},
{"mark":"tick","encoding":{"x":{"field":"g","type":"nominal"},"xOffset":{"field":"c","type":"nominal"},"y":{"field":"lo","type":"quantitative","axis":{"orient":"left","title":null,"labels":false,"domain":false,"tickSize":-3,"values":[-2.25,-1.75,-1.25,-0.75,-0.25,0.25,0.75,1.25]}}}},
{"mark":"tick","encoding":{"x":{"field":"g","type":"nominal"},"xOffset":{"field":"c","type":"nominal"},"y":{"field":"hi","type":"quantitative","axis":{"orient":"right","title":null,"labels":false,"domain":false,"tickSize":3,"values":[-2.25,-1.75,-1.25,-0.75,-0.25,0.25,0.75,1.25]}}}},
{"mark":{"type":"bar","fillOpacity":0},"encoding":{"x":{"field":"g","type":"nominal"},"xOffset":{"field":"c","type":"nominal"},"y":{"field":"med","type":"quantitative","axis":null},"y2":{"field":"med"}}},
{"data":{"name":"pts"},"transform":[{"filter":"datum.g=='IRF8'"}],"mark":"point","encoding":{"x":{"field":"g","type":"nominal"},"xOffset":{"field":"c","type":"nominal"},"y":{"field":"v","type":"quantitative","axis":null}}}
]},
{"width":327,"height":214,"title":{"text":["Box plot","Split by: cell type"]},"transform":[{"filter":"datum.g=='STAT3'"}],"resolve":{"axis":{"y":"independent"}},"layer":[
{"data":{"values":[{"g":"STAT3"}]},"mark":{"type":"rule","color":"#444","strokeDash":[1.5,2.5]},"encoding":{"y":{"datum":0,"type":"quantitative","axis":null}}},
{"mark":"rule","encoding":{"x":{"field":"g","type":"nominal","scale":{"paddingInner":0,"paddingOuter":0},"axis":{"title":null}},"xOffset":{"field":"c","type":"nominal","scale":{"paddingInner":0.12,"paddingOuter":0.375}},"y":{"field":"lo","type":"quantitative","scale":{"domain":[-1.25,1.25],"nice":false,"zero":false},"axis":{"values":[-1.25,-1,-0.75,-0.5,-0.25,0,0.25,0.5,0.75,1,1.25],"format":".4~g","title":"Log₂ units"}},"y2":{"field":"hi"}}},
{"mark":"bar","encoding":{"x":{"field":"g","type":"nominal"},"xOffset":{"field":"c","type":"nominal"},"y":{"field":"q1","type":"quantitative","axis":{"orient":"right","title":null,"values":[-1.25,-1,-0.75,-0.5,-0.25,0,0.25,0.5,0.75,1,1.25]}},"y2":{"field":"q3"},"fill":{"field":"c","type":"nominal","title":"(m)","scale":{"domain":["GC cells","Naïve cells","Memory cells","Plasma cells"],"range":["#0000ee","#ee0000","#ffffff","#cfd2f7"]}}}},
{"transform":[{"filter":"datum.c=='Plasma cells'"}],"mark":{"type":"bar","fill":{"expr":"hatch"}},"encoding":{"x":{"field":"g","type":"nominal"},"xOffset":{"field":"c","type":"nominal"},"y":{"field":"q1","type":"quantitative","axis":null},"y2":{"field":"q3"}}},
{"mark":"tick","encoding":{"x":{"field":"g","type":"nominal"},"xOffset":{"field":"c","type":"nominal"},"y":{"field":"lo","type":"quantitative","axis":{"orient":"left","title":null,"labels":false,"domain":false,"tickSize":-3,"values":[-1.125,-0.875,-0.625,-0.375,-0.125,0.125,0.375,0.625,0.875,1.125]}}}},
{"mark":"tick","encoding":{"x":{"field":"g","type":"nominal"},"xOffset":{"field":"c","type":"nominal"},"y":{"field":"hi","type":"quantitative","axis":{"orient":"right","title":null,"labels":false,"domain":false,"tickSize":3,"values":[-1.125,-0.875,-0.625,-0.375,-0.125,0.125,0.375,0.625,0.875,1.125]}}}},
{"mark":{"type":"bar","fillOpacity":0},"encoding":{"x":{"field":"g","type":"nominal"},"xOffset":{"field":"c","type":"nominal"},"y":{"field":"med","type":"quantitative","axis":null},"y2":{"field":"med"}}},
{"data":{"name":"pts"},"transform":[{"filter":"datum.g=='STAT3'"}],"mark":"point","encoding":{"x":{"field":"g","type":"nominal"},"xOffset":{"field":"c","type":"nominal"},"y":{"field":"v","type":"quantitative","axis":null}}}
]},
{"width":327,"height":214,"title":{"text":["Box plot","Split by: cell type"]},"transform":[{"filter":"datum.g=='STAT5B'"}],"resolve":{"axis":{"y":"independent"}},"layer":[
{"data":{"values":[{"g":"STAT5B"}]},"mark":{"type":"rule","color":"#444","strokeDash":[1.5,2.5]},"encoding":{"y":{"datum":0,"type":"quantitative","axis":null}}},
{"mark":"rule","encoding":{"x":{"field":"g","type":"nominal","scale":{"paddingInner":0,"paddingOuter":0},"axis":{"title":null}},"xOffset":{"field":"c","type":"nominal","scale":{"paddingInner":0.12,"paddingOuter":0.375}},"y":{"field":"lo","type":"quantitative","scale":{"domain":[-1,1.25],"nice":false,"zero":false},"axis":{"values":[-1,-0.75,-0.5,-0.25,0,0.25,0.5,0.75,1,1.25],"format":".4~g","title":"Log₂ units"}},"y2":{"field":"hi"}}},
{"mark":"bar","encoding":{"x":{"field":"g","type":"nominal"},"xOffset":{"field":"c","type":"nominal"},"y":{"field":"q1","type":"quantitative","axis":{"orient":"right","title":null,"values":[-1,-0.75,-0.5,-0.25,0,0.25,0.5,0.75,1,1.25]}},"y2":{"field":"q3"},"fill":{"field":"c","type":"nominal","title":"(n)","scale":{"domain":["GC cells","Naïve cells","Memory cells","Plasma cells"],"range":["#0000ee","#ee0000","#ffffff","#cfd2f7"]}}}},
{"transform":[{"filter":"datum.c=='Plasma cells'"}],"mark":{"type":"bar","fill":{"expr":"hatch"}},"encoding":{"x":{"field":"g","type":"nominal"},"xOffset":{"field":"c","type":"nominal"},"y":{"field":"q1","type":"quantitative","axis":null},"y2":{"field":"q3"}}},
{"mark":"tick","encoding":{"x":{"field":"g","type":"nominal"},"xOffset":{"field":"c","type":"nominal"},"y":{"field":"lo","type":"quantitative","axis":{"orient":"left","title":null,"labels":false,"domain":false,"tickSize":-3,"values":[-0.875,-0.625,-0.375,-0.125,0.125,0.375,0.625,0.875,1.125]}}}},
{"mark":"tick","encoding":{"x":{"field":"g","type":"nominal"},"xOffset":{"field":"c","type":"nominal"},"y":{"field":"hi","type":"quantitative","axis":{"orient":"right","title":null,"labels":false,"domain":false,"tickSize":3,"values":[-0.875,-0.625,-0.375,-0.125,0.125,0.375,0.625,0.875,1.125]}}}},
{"mark":{"type":"bar","fillOpacity":0},"encoding":{"x":{"field":"g","type":"nominal"},"xOffset":{"field":"c","type":"nominal"},"y":{"field":"med","type":"quantitative","axis":null},"y2":{"field":"med"}}},
{"data":{"name":"pts"},"transform":[{"filter":"datum.g=='STAT5B'"}],"mark":"point","encoding":{"x":{"field":"g","type":"nominal"},"xOffset":{"field":"c","type":"nominal"},"y":{"field":"v","type":"quantitative","axis":null}}}
]},
{"width":327,"height":214,"title":{"text":["Box plot","Split by: cell type"]},"transform":[{"filter":"datum.g=='STAT5A'"}],"resolve":{"axis":{"y":"independent"}},"layer":[
{"data":{"values":[{"g":"STAT5A"}]},"mark":{"type":"rule","color":"#444","strokeDash":[1.5,2.5]},"encoding":{"y":{"datum":0,"type":"quantitative","axis":null}}},
{"mark":"rule","encoding":{"x":{"field":"g","type":"nominal","scale":{"paddingInner":0,"paddingOuter":0},"axis":{"title":null}},"xOffset":{"field":"c","type":"nominal","scale":{"paddingInner":0.12,"paddingOuter":0.375}},"y":{"field":"lo","type":"quantitative","scale":{"domain":[-0.8,1],"nice":false,"zero":false},"axis":{"values":[-0.8,-0.6,-0.4,-0.2,0,0.2,0.4,0.6,0.8,1],"format":".4~g","title":"Log₂ units"}},"y2":{"field":"hi"}}},
{"mark":"bar","encoding":{"x":{"field":"g","type":"nominal"},"xOffset":{"field":"c","type":"nominal"},"y":{"field":"q1","type":"quantitative","axis":{"orient":"right","title":null,"values":[-0.8,-0.6,-0.4,-0.2,0,0.2,0.4,0.6,0.8,1]}},"y2":{"field":"q3"},"fill":{"field":"c","type":"nominal","title":"(o)","scale":{"domain":["GC cells","Naïve cells","Memory cells","Plasma cells"],"range":["#0000ee","#ee0000","#ffffff","#cfd2f7"]}}}},
{"transform":[{"filter":"datum.c=='Plasma cells'"}],"mark":{"type":"bar","fill":{"expr":"hatch"}},"encoding":{"x":{"field":"g","type":"nominal"},"xOffset":{"field":"c","type":"nominal"},"y":{"field":"q1","type":"quantitative","axis":null},"y2":{"field":"q3"}}},
{"mark":"tick","encoding":{"x":{"field":"g","type":"nominal"},"xOffset":{"field":"c","type":"nominal"},"y":{"field":"lo","type":"quantitative","axis":{"orient":"left","title":null,"labels":false,"domain":false,"tickSize":-3,"values":[-0.7,-0.5,-0.3,-0.1,0.1,0.3,0.5,0.7,0.9]}}}},
{"mark":"tick","encoding":{"x":{"field":"g","type":"nominal"},"xOffset":{"field":"c","type":"nominal"},"y":{"field":"hi","type":"quantitative","axis":{"orient":"right","title":null,"labels":false,"domain":false,"tickSize":3,"values":[-0.7,-0.5,-0.3,-0.1,0.1,0.3,0.5,0.7,0.9]}}}},
{"mark":{"type":"bar","fillOpacity":0},"encoding":{"x":{"field":"g","type":"nominal"},"xOffset":{"field":"c","type":"nominal"},"y":{"field":"med","type":"quantitative","axis":null},"y2":{"field":"med"}}},
{"data":{"name":"pts"},"transform":[{"filter":"datum.g=='STAT5A'"}],"mark":"point","encoding":{"x":{"field":"g","type":"nominal"},"xOffset":{"field":"c","type":"nominal"},"y":{"field":"v","type":"quantitative","axis":null}}}
]},
{"width":327,"height":214,"title":{"text":["Box plot","Split by: cell type"]},"transform":[{"filter":"datum.g=='PAX5'"}],"resolve":{"axis":{"y":"independent"}},"layer":[
{"data":{"values":[{"g":"PAX5"}]},"mark":{"type":"rule","color":"#444","strokeDash":[1.5,2.5]},"encoding":{"y":{"datum":0,"type":"quantitative","axis":null}}},
{"mark":"rule","encoding":{"x":{"field":"g","type":"nominal","scale":{"paddingInner":0,"paddingOuter":0},"axis":{"title":null}},"xOffset":{"field":"c","type":"nominal","scale":{"paddingInner":0.12,"paddingOuter":0.375}},"y":{"field":"lo","type":"quantitative","scale":{"domain":[-0.2,1],"nice":false,"zero":false},"axis":{"values":[-0.2,0,0.2,0.4,0.6,0.8,1],"format":".4~g","title":"Log₂ units"}},"y2":{"field":"hi"}}},
{"mark":"bar","encoding":{"x":{"field":"g","type":"nominal"},"xOffset":{"field":"c","type":"nominal"},"y":{"field":"q1","type":"quantitative","axis":{"orient":"right","title":null,"values":[-0.2,0,0.2,0.4,0.6,0.8,1]}},"y2":{"field":"q3"},"fill":{"field":"c","type":"nominal","title":"(p)","scale":{"domain":["GC cells","Naïve cells","Memory cells","Plasma cells"],"range":["#0000ee","#ee0000","#ffffff","#cfd2f7"]}}}},
{"transform":[{"filter":"datum.c=='Plasma cells'"}],"mark":{"type":"bar","fill":{"expr":"hatch"}},"encoding":{"x":{"field":"g","type":"nominal"},"xOffset":{"field":"c","type":"nominal"},"y":{"field":"q1","type":"quantitative","axis":null},"y2":{"field":"q3"}}},
{"mark":"tick","encoding":{"x":{"field":"g","type":"nominal"},"xOffset":{"field":"c","type":"nominal"},"y":{"field":"lo","type":"quantitative","axis":{"orient":"left","title":null,"labels":false,"domain":false,"tickSize":-3,"values":[-0.1,0.1,0.3,0.5,0.7,0.9]}}}},
{"mark":"tick","encoding":{"x":{"field":"g","type":"nominal"},"xOffset":{"field":"c","type":"nominal"},"y":{"field":"hi","type":"quantitative","axis":{"orient":"right","title":null,"labels":false,"domain":false,"tickSize":3,"values":[-0.1,0.1,0.3,0.5,0.7,0.9]}}}},
{"mark":{"type":"bar","fillOpacity":0},"encoding":{"x":{"field":"g","type":"nominal"},"xOffset":{"field":"c","type":"nominal"},"y":{"field":"med","type":"quantitative","axis":null},"y2":{"field":"med"}}},
{"data":{"name":"pts"},"transform":[{"filter":"datum.g=='PAX5'"}],"mark":"point","encoding":{"x":{"field":"g","type":"nominal"},"xOffset":{"field":"c","type":"nominal"},"y":{"field":"v","type":"quantitative","axis":null}}}
]}
],
"config": {
"font": "Liberation Serif",
"view": {"stroke": "#333", "strokeWidth": 1},
"axis": {"labelFont": "Liberation Serif", "labelFontSize": 12, "labelColor": "#111", "tickColor": "#333", "domainColor": "#333", "titleFont": "Liberation Serif", "titleFontSize": 13, "titleFontWeight": "normal", "titleColor": "#111", "grid": false, "tickSize": 4},
"axisLeft": {"labelPadding": 3, "titlePadding": 8},
"axisRight": {"labels": false},
"axisBottom": {"labelFontStyle": "italic", "labelFontSize": 13, "labelAngle": 0, "tickSize": 4, "labelPadding": 4},
"title": {"font": "Liberation Serif", "fontSize": 13, "fontWeight": "normal", "anchor": "start", "frame": "group", "offset": 2, "lineHeight": 16, "color": "#111"},
"legend": {"orient": "bottom", "columns": 2, "offset": 20, "symbolType": "square", "symbolSize": 150, "symbolStrokeColor": "#111", "symbolStrokeWidth": 1, "labelFont": "Liberation Serif", "labelFontSize": 13, "labelColor": "#111", "columnPadding": 95, "rowPadding": 3, "titleOrient": "bottom", "titleAnchor": "middle", "titleFont": "Liberation Serif", "titleFontSize": 13, "titleFontWeight": "normal", "titleColor": "#111", "titlePadding": 9},
"tick": {"thickness": 1.2, "size": 16, "color": "#222"},
"rule": {"color": "#222"},
"bar": {"stroke": "#222", "strokeWidth": 1},
"point": {"filled": true, "color": "#0000ee", "size": 75, "opacity": 1}
}
}
